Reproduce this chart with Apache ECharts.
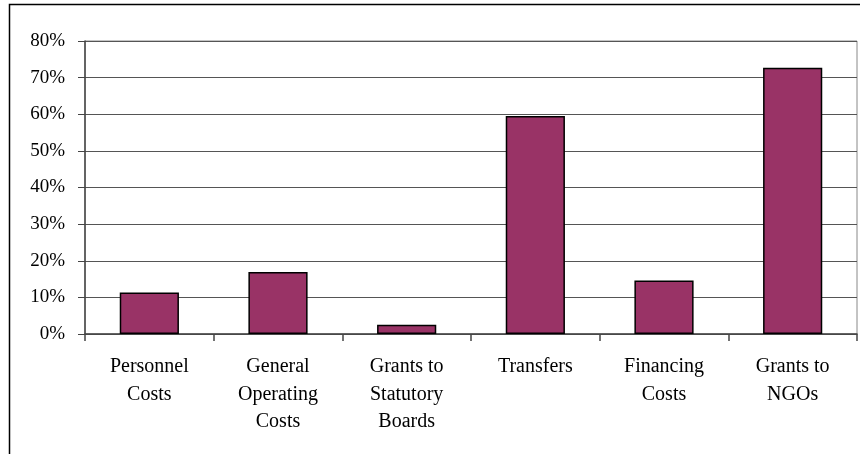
<!DOCTYPE html>
<html><head><meta charset="utf-8">
<script src="https://cdn.jsdelivr.net/npm/echarts@6/dist/echarts.min.js"></script>
<style>html,body{margin:0;padding:0;background:#fff}#c{width:860px;height:454px}</style>
</head><body><div id="c"></div>
<script>
const categories = ['Personnel\nCosts', 'General\nOperating\nCosts', 'Grants to\nStatutory\nBoards', 'Transfers', 'Financing\nCosts', 'Grants to\nNGOs'];
const values = [11.3, 16.9, 2.5, 59.5, 14.6, 72.7];
const yTicks = [0, 10, 20, 30, 40, 50, 60, 70, 80];

const chart = echarts.init(document.getElementById('c'), null, {renderer: 'canvas'});
const font = '"Liberation Serif", "Times New Roman", serif';
chart.setOption({
  animation: false,
  backgroundColor: '#fff',
  graphic: [{
    type: 'rect', shape: {x: 9.5, y: 4.5, width: 900, height: 500},
    style: {fill: 'none', stroke: '#000', lineWidth: 1.5}, silent: true
  }],
  grid: {left: 85, right: 3, top: 41, bottom: 120, show: true, borderColor: '#888', borderWidth: 1},
  xAxis: {
    type: 'category', data: categories,
    axisLine: {lineStyle: {color: '#444', width: 1.5}},
    axisTick: {show: true, length: 7, lineStyle: {color: '#444', width: 1.5}},
    axisLabel: {color: '#000', fontFamily: font, fontSize: 20, lineHeight: 27.5, margin: 19, interval: 0}
  },
  yAxis: {
    type: 'value', min: yTicks[0], max: yTicks[yTicks.length - 1], interval: 10,
    axisLine: {show: true, lineStyle: {color: '#444', width: 1.5}},
    axisTick: {show: true, length: 7, lineStyle: {color: '#444', width: 1}},
    splitLine: {lineStyle: {color: '#555', width: 1}},
    axisLabel: {color: '#000', fontFamily: font, fontSize: 19, margin: 20, formatter: v => v + '%'}
  },
  series: [{
    type: 'bar', data: values, barWidth: '46%',
    itemStyle: {color: '#993366', borderColor: '#000', borderWidth: 1.5}
  }]
});
</script></body></html>
